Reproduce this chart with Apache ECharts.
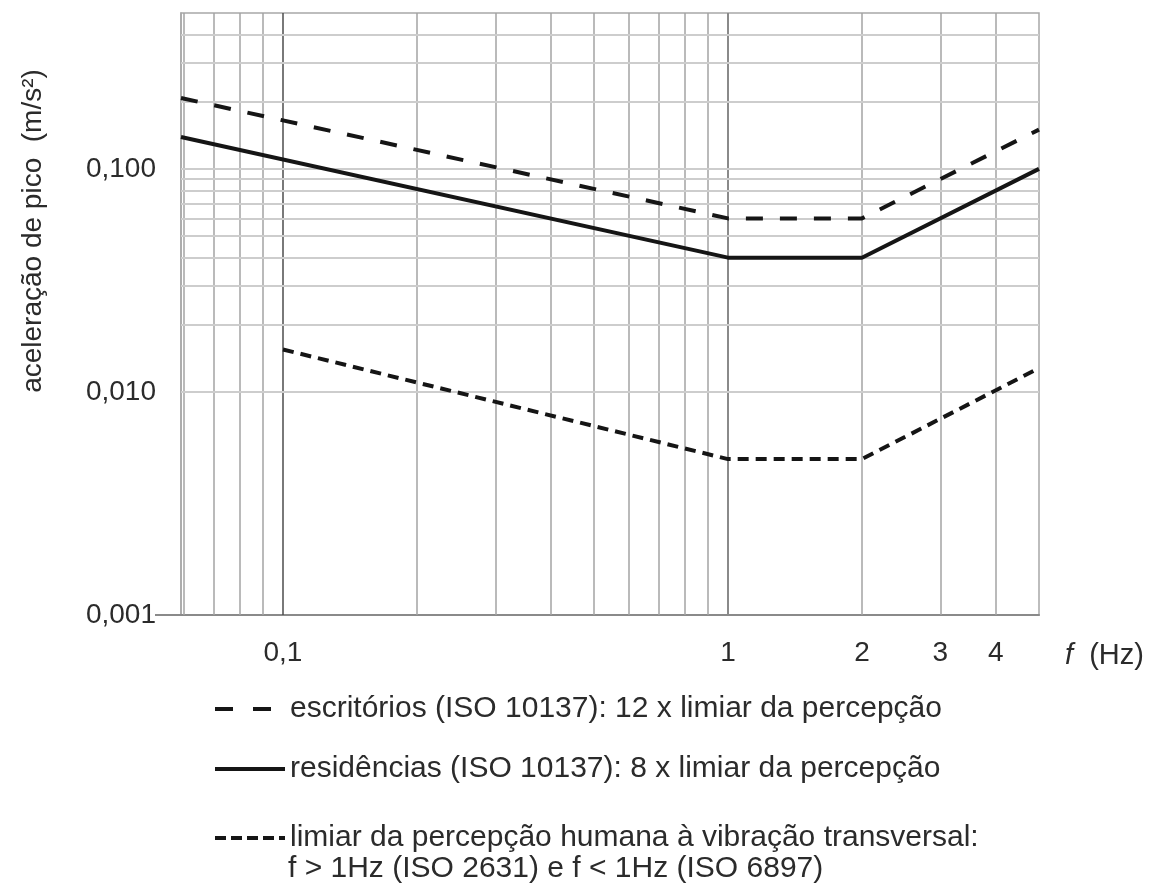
<!DOCTYPE html>
<html>
<head>
<meta charset="utf-8">
<script src="https://cdn.jsdelivr.net/npm/echarts@6/dist/echarts.min.js"></script>
<style>
  html, body { margin: 0; background: #fff; }
  #chart { width: 1151px; height: 886px; }
</style>
</head>
<body>
<div id="chart"></div>
<script>
// curve names (also legend text)
var nameEscritorios = 'escritórios (ISO 10137): 12 x limiar da percepção';
var nameResidencias = 'residências (ISO 10137): 8 x limiar da percepção';
var nameLimiar = 'limiar da percepção humana à vibração transversal:';
var limiarSecondLine = 'f > 1Hz (ISO 2631) e f < 1Hz (ISO 6897)';

// f (Hz) / peak acceleration (m/s²)
var freqEscritorios = [0.059, 1, 2, 5];
var accEscritorios = [0.208, 0.06, 0.06, 0.15];
var freqResidencias = [0.059, 1, 2, 5];
var accResidencias = [0.139, 0.04, 0.04, 0.1];
var freqLimiar = [0.1, 1, 2, 5];
var accLimiar = [0.0155, 0.005, 0.005, 0.0128];

// axis labels
var xTickValues = [0.1, 1, 2, 3, 4];
var xTickLabels = ['0,1', '1', '2', '3', '4'];
var yTickValues = [0.001, 0.01, 0.1];
var yTickLabels = ['0,001', '0,010', '0,100'];

// log paper grid
var xGridValues = [0.06, 0.07, 0.08, 0.09, 0.1, 0.2, 0.3, 0.4, 0.5, 0.6, 0.7, 0.8, 0.9, 1, 2, 3, 4];
var yGridValues = [0.002, 0.003, 0.004, 0.005, 0.006, 0.007, 0.008, 0.009, 0.01,
  0.02, 0.03, 0.04, 0.05, 0.06, 0.07, 0.08, 0.09, 0.1, 0.2, 0.3, 0.4];

var FONT = '"Liberation Sans", Arial, sans-serif';
var TEXT = '#2b2b2b';
var INK = '#151515';

function pairs(xs, ys) {
  return xs.map(function (x, i) { return [x, ys[i]]; });
}

function labelFor(values, labels) {
  return function (v) {
    var best = -1, diff = Infinity;
    values.forEach(function (t, i) {
      var d = Math.abs(Math.log10(t) - Math.log10(v));
      if (d < diff) { diff = d; best = i; }
    });
    return diff < 0.01 ? labels[best] : '';
  };
}

var gridLines = [];
xGridValues.forEach(function (v) {
  gridLines.push({
    xAxis: v,
    lineStyle: v === 0.1 ? { color: '#4d4d4d', width: 1.5, type: 'solid' }
      : { color: v === 1 ? '#8a8a8a' : '#a3a3a3', width: v === 1 ? 2 : 1.5, type: 'solid' }
  });
});
yGridValues.forEach(function (v) {
  gridLines.push({ yAxis: v, lineStyle: { color: '#cdcdcd', width: 2, type: 'solid' } });
});

function legendAt(name, top, dash) {
  return {
    data: [name],
    orient: 'vertical',
    left: 213,
    top: top,
    padding: 0,
    itemWidth: 70,
    itemHeight: 14,
    selectedMode: false,
    textStyle: { fontFamily: FONT, fontSize: 30, color: TEXT },
    itemStyle: { color: 'transparent', borderWidth: 0 },
    lineStyle: { width: 4, color: INK, type: dash }
  };
}

var chart = echarts.init(document.getElementById('chart'));
chart.setOption({
  animation: false,
  backgroundColor: '#fff',
  grid: {
    left: 181, right: 112, top: 13, bottom: 271,
    show: true, borderColor: '#a8a8a8', borderWidth: 1.5
  },
  legend: [
    legendAt(nameEscritorios, 694, [18, 20]),
    legendAt(nameResidencias, 754, 'solid'),
    legendAt(nameLimiar, 823, [11, 5])
  ],
  graphic: [{
    type: 'text', left: 288, top: 854,
    style: { text: limiarSecondLine, font: '30px ' + FONT, fill: TEXT }
  }],
  xAxis: {
    type: 'log', logBase: 10, min: 0.059, max: 5,
    name: '{i|f}  (Hz)', nameLocation: 'end', nameGap: 26,
    nameTextStyle: {
      fontFamily: FONT, fontSize: 29, color: TEXT, verticalAlign: 'top', padding: [26, 0, 0, 0],
      rich: { i: { fontStyle: 'italic', fontFamily: FONT, fontSize: 29, color: TEXT } }
    },
    axisLine: { show: true, lineStyle: { color: '#8a8a8a', width: 2 } },
    axisTick: { show: false },
    splitLine: { show: false },
    minorSplitLine: { show: false },
    axisLabel: {
      customValues: xTickValues,
      formatter: labelFor(xTickValues, xTickLabels),
      margin: 24, fontFamily: FONT, fontSize: 28, color: TEXT
    }
  },
  yAxis: {
    type: 'log', logBase: 10, min: 0.001, max: 0.5,
    name: 'aceleração de pico  (m/s²)', nameLocation: 'middle', nameRotate: 90, nameGap: 134,
    nameTextStyle: { fontFamily: FONT, fontSize: 28, color: TEXT, padding: [0, 0, 0, 166] },
    axisLine: { show: true, lineStyle: { color: '#a8a8a8', width: 1.5 } },
    axisTick: { show: true, customValues: [0.001], length: 26, lineStyle: { color: '#8a8a8a', width: 2 } },
    splitLine: { show: false },
    axisLabel: {
      customValues: yTickValues,
      formatter: labelFor(yTickValues, yTickLabels),
      margin: 25, fontFamily: FONT, fontSize: 28, color: TEXT
    }
  },
  series: [
    {
      name: 'grade', type: 'line', data: [], silent: true, z: 1,
      markLine: { silent: true, z: 1, symbol: 'none', label: { show: false }, animation: false, data: gridLines }
    },
    {
      name: nameEscritorios, type: 'line', symbol: 'none', z: 3,
      lineStyle: { color: INK, width: 4, type: [17, 17] },
      data: pairs(freqEscritorios, accEscritorios)
    },
    {
      name: nameResidencias, type: 'line', symbol: 'none', z: 3,
      lineStyle: { color: INK, width: 4, type: 'solid' },
      data: pairs(freqResidencias, accResidencias)
    },
    {
      name: nameLimiar, type: 'line', symbol: 'none', z: 3,
      lineStyle: { color: INK, width: 4, type: [11, 7] },
      data: pairs(freqLimiar, accLimiar)
    }
  ]
});
</script>
</body>
</html>
